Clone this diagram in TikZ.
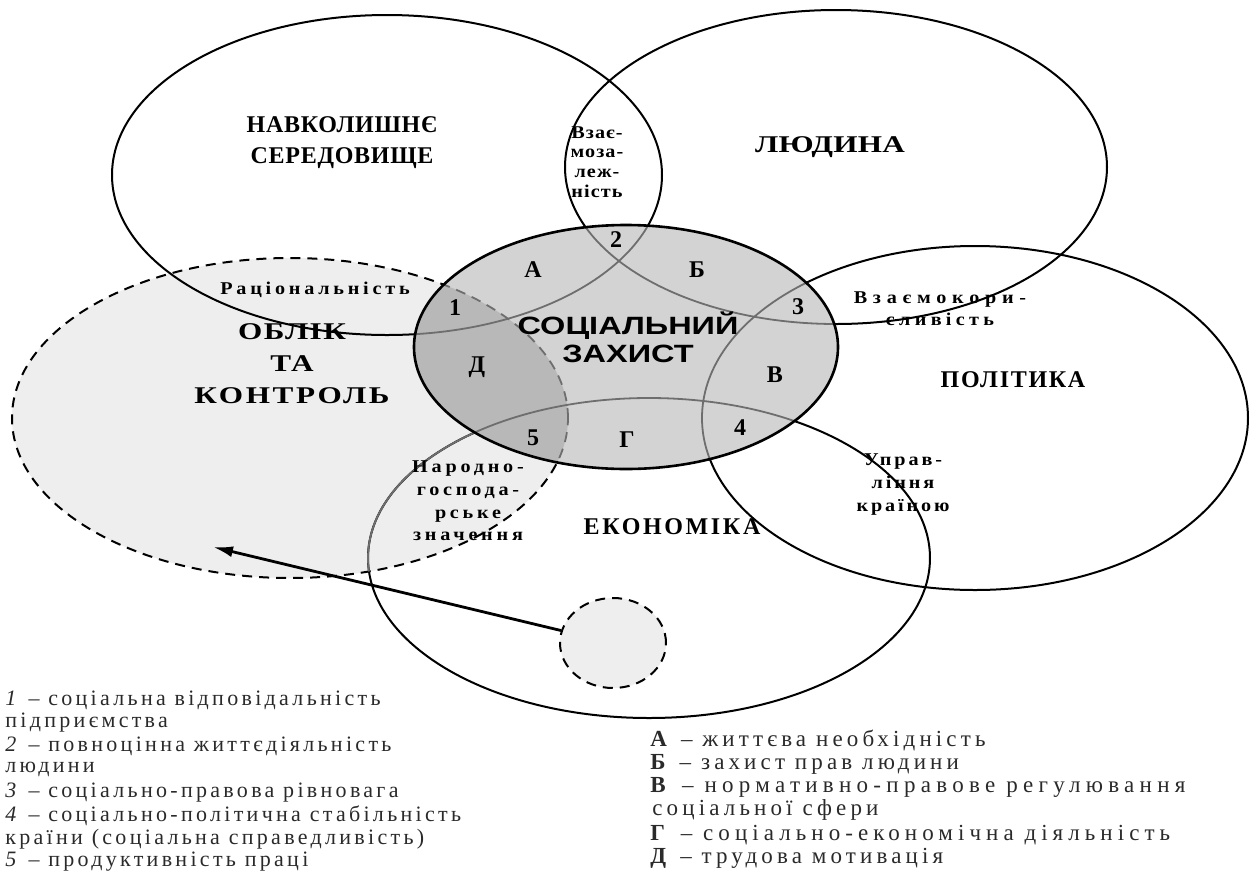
\documentclass[tikz,border=0pt]{standalone}
\usepackage{fontspec}
\setmainfont{Liberation Serif}
\newfontfamily\capsfont{Liberation Serif}
\newfontfamily\capswide[FakeStretch=1.3]{Liberation Serif}
\newfontfamily\labfont[FakeStretch=1.12]{Liberation Serif}
\newfontfamily\legfont[LetterSpace=15]{Liberation Serif}
\newfontfamily\legrfont{Liberation Serif}
\newfontfamily\socfont[FakeStretch=1.3]{Liberation Sans}
\newcommand{\ls}[1]{\addfontfeatures{LetterSpace=#1}}
\usetikzlibrary{shapes.geometric,arrows.meta}
\definecolor{socfill}{HTML}{D3D3D3}
\definecolor{oblfill}{HTML}{EEEEEE}
\definecolor{both}{HTML}{B8B8B8}
\definecolor{inner}{HTML}{6E6E6E}
\definecolor{legtext}{HTML}{2A2A2A}
\tikzset{
  outl/.style={line width=1pt, draw=black},
  dashline/.style={dash pattern=on 5pt off 3.5pt},
  capl/.style={font=\capsfont\bfseries\fontsize{12}{15.5}\selectfont, align=center, inner sep=0pt},
  capw/.style={font=\capswide\bfseries\fontsize{12}{16}\selectfont, align=center, inner sep=0pt},
  socl/.style={font=\socfont\bfseries\fontsize{12.5}{13.8}\selectfont, align=center, inner sep=0pt},
  labl/.style={font=\labfont\bfseries\fontsize{9}{10}\selectfont, align=center, inner sep=0pt},
  regl/.style={font=\bfseries\fontsize{12}{13}\selectfont, inner sep=0pt},
  legl/.style={font=\legfont\fontsize{11}{12}\selectfont, text=legtext, anchor=west, inner sep=0pt},
  legr/.style={font=\legrfont\fontsize{11.5}{12}\selectfont, text=legtext, anchor=west, inner sep=0pt},
  arr/.style={line width=1.4pt, -{Latex[length=10pt,width=5.5pt]}}
}
\newcommand{\ENav}{(387,175) ellipse [x radius=137.5pt, y radius=80pt]}
\newcommand{\ELud}{(836,167) ellipse [x radius=135.5pt, y radius=78.5pt]}
\newcommand{\ESoc}{(626,347) ellipse [x radius=106pt, y radius=61pt]}
\newcommand{\EPol}{(975,418) ellipse [x radius=136.5pt, y radius=86pt]}
\newcommand{\EEco}{(649,558) ellipse [x radius=140.5pt, y radius=80pt]}
\newcommand{\EObl}{(290,418) ellipse [x radius=139pt, y radius=80pt]}
\begin{document}
\begin{tikzpicture}[x=0.5pt,y=-0.5pt]
\useasboundingbox[fill=white] (0,0) rectangle (1250,874);
% fills
\fill[oblfill] \EObl;
% small circle
\node[ellipse, draw, dashline, line width=1pt, fill=oblfill, minimum width=53pt, minimum height=45pt, inner sep=0pt] (small) at (613,643) {};
% outlines in black
\draw[outl] \ENav;
\draw[outl] \ELud;
\draw[outl] \EPol;
\draw[outl] \EEco;
\draw[outl, dashline] \EObl;
\begin{scope}
  \clip \EObl;
  \draw[line width=0.9pt, draw=inner] \EEco;
\end{scope}
% social circle
\fill[socfill] \ESoc;
\begin{scope}
  \clip \ESoc;
  \fill[both] \EObl;
  \draw[line width=0.9pt, draw=inner] \ENav;
  \draw[line width=0.9pt, draw=inner] \ELud;
  \draw[line width=0.9pt, draw=inner] \EPol;
  \draw[line width=0.9pt, draw=inner] \EEco;
  \draw[line width=0.9pt, draw=inner, dashline] \EObl;
\end{scope}
\draw[line width=1.3pt] \ESoc;
% arrow
\coordinate (tip) at (213,547);
\draw[arr] (small) -- (tip);
% main labels
\node[capl] (nav) at (342,143) {\ls{3}НАВКОЛИШНЄ\\\ls{3}СЕРЕДОВИЩЕ};
\node[capw] (lud) at (830,147) {\ls{1}ЛЮДИНА};
\node[capw] (obl) at (292,364) {\ls{6}ОБЛІК\\\ls{6}ТА\\\ls{11}КОНТРОЛЬ};
\node[capl] (pol) at (1013,380) {\ls{7}ПОЛІТИКА};
\node[capl] (eco) at (672,527) {\ls{11}ЕКОНОМІКА};
\node[socl] (sz) at (628,337) {СОЦІАЛЬНИЙ\\ЗАХИСТ};
% small labels
\node[labl, font=\labfont\bfseries\fontsize{9}{9.85}\selectfont] (vz) at (597,162) {\ls{6}Взає-\\\ls{6}моза-\\\ls{6}леж-\\\ls{6}ність};
\node[labl] (rac) at (315,290) {\ls{21}Раціональність};
\node[labl, font=\labfont\bfseries\fontsize{9}{11}\selectfont] (vzk) at (940,309) {\ls{32}Взаємокори-\\\ls{24}сливість};
\node[labl, font=\labfont\bfseries\fontsize{9}{11.3}\selectfont] (nar) at (468,501) {\ls{21}Народно-\\\ls{21}господа-\\\ls{21}рське\\\ls{21}значення};
\node[labl, font=\labfont\bfseries\fontsize{9}{11.5}\selectfont] (upr) at (903,485) {\ls{16}Управ-\\\ls{16}ління\\\ls{16}країною};
% region labels
\node[regl] (r2) at (616,240) {2};
\node[regl] (rA) at (533,270) {А};
\node[regl] (rB) at (697,270) {Б};
\node[regl] (r1) at (455,308) {1};
\node[regl] (r3) at (798,307) {3};
\node[regl] (rD) at (477,367) {Д};
\node[regl] (rV) at (775,375) {В};
\node[regl] (r5) at (533,438) {5};
\node[regl] (rG) at (627,440) {Г};
\node[regl] (r4) at (740,428) {4};
% legend left
\node[legl] (l1) at (5,700) {\textit{1} – соціальна відповідальність};
\node[legl] (l2) at (5,723) {підприємства};
\node[legl] (l3) at (5,746) {\textit{2} – повноцінна життєдіяльність};
\node[legl] (l4) at (5,769) {людини};
\node[legl] (l5) at (5,793) {\textit{3} – соціально-правова рівновага};
\node[legl] (l6) at (5,816) {\textit{4} – соціально-політична стабільність};
\node[legl] (l7) at (5,839) {країни (соціальна справедливість)};
\node[legl] (l8) at (5,862) {\textit{5} – продуктивність праці};
% legend right
\node[legr] (m1) at (650,740) {\ls{18}\textbf{А} – життєва необхідність};
\node[legr] (m2) at (650,764) {\ls{18}\textbf{Б} – захист прав людини};
\node[legr] (m3) at (650,787) {\ls{23}\textbf{В} – нормативно-правове регулювання};
\node[legr] (m4) at (652,810) {\ls{18}соціальної сфери};
\node[legr] (m5) at (650,835) {\ls{22}\textbf{Г} – соціально-економічна діяльність};
\node[legr] (m6) at (650,858) {\ls{18}\textbf{Д} – трудова мотивація};
\end{tikzpicture}
\end{document}
